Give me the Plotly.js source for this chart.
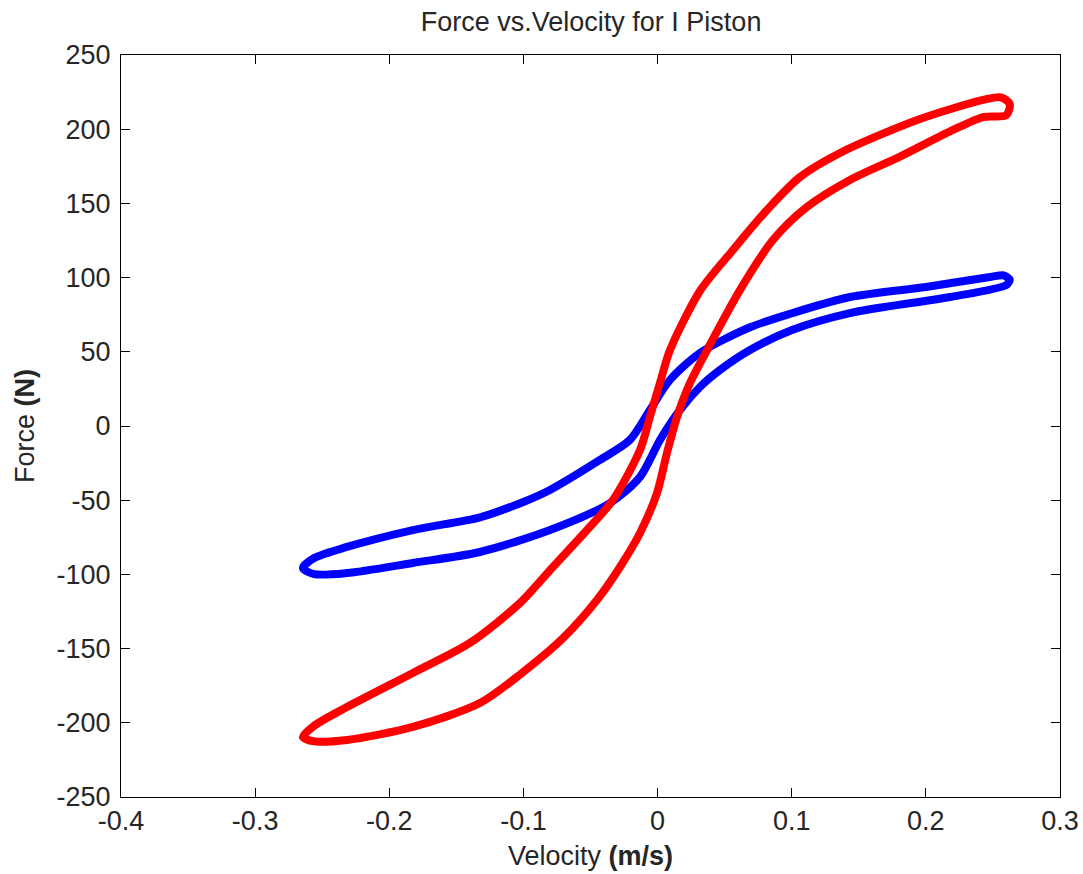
<!DOCTYPE html>
<html>
<head>
<meta charset="utf-8">
<script src="https://cdn.plot.ly/plotly-3.0.1.min.js"></script>
<style>html,body{margin:0;padding:0;background:#fff;}#plot{width:1083px;height:874px;}</style>
</head>
<body>
<div id="plot"></div>
<script>
// Blue loop: velocity (m/s) and force (N)
const blueVelocity = [-0.2644, -0.2560, -0.2316, -0.1824, -0.1324, -0.0996, -0.0802, -0.0430, -0.0206, -0.0057, 0.0092, 0.0316, 0.0689, 0.1002, 0.1435, 0.2001, 0.2479, 0.2580, 0.2625,
  0.2600, 0.2180, 0.1434, 0.1002, 0.0689, 0.0465, 0.0316, 0.0167, 0.0018, -0.0131, -0.0355, -0.0802, -0.1324, -0.1824, -0.2316, -0.2560, -0.2644];
const blueForce = [-95.7, -89.0, -81.5, -70.1, -61.5, -51.0, -43.1, -22.9, -9.4, 10.8, 31.0, 49.2, 66.5, 76.0, 86.9, 93.7, 100.4, 101.5, 98.5,
  95.0, 86.9, 76.1, 64.7, 51.2, 37.7, 26.3, 10.8, -9.4, -34.4, -51.9, -70.1, -84.9, -92.3, -99.1, -99.8, -95.7];

// Red loop
const redVelocity = [-0.2644, -0.2560, -0.2316, -0.1824, -0.1399, -0.1026, -0.0780, -0.0526, -0.0333, -0.0131, -0.0057, 0.0018, 0.0092, 0.0316, 0.0562, 0.0816, 0.1062, 0.1360, 0.1936, 0.2427, 0.2560, 0.2625,
  0.2600, 0.2427, 0.2180, 0.1807, 0.1434, 0.1114, 0.0860, 0.0614, 0.0369, 0.0242, 0.0145, 0.0070, -0.0004, -0.0131, -0.0280, -0.0452, -0.0705, -0.1026, -0.1324, -0.1824, -0.2316, -0.2560, -0.2644];
const redForce = [-209.6, -202.0, -189.4, -166.4, -146.2, -119.3, -95.0, -70.1, -49.9, -16.2, 6.1, 29.0, 51.0, 91.0, 118.6, 145.6, 167.8, 184.0, 206.2, 219.7, 221.5, 217.0,
  209.5, 208.2, 198.5, 181.5, 165.8, 147.6, 125.3, 91.6, 51.2, 29.0, 6.1, -18.2, -45.1, -72.1, -95.0, -117.3, -143.0, -167.5, -186.7, -202.8, -211.6, -212.5, -209.6];

const xTickVals = [-0.4, -0.3, -0.2, -0.1, 0, 0.1, 0.2, 0.3];
const xTickText = ['-0.4', '-0.3', '-0.2', '-0.1', '0', '0.1', '0.2', '0.3'];
const yTickVals = [-250, -200, -150, -100, -50, 0, 50, 100, 150, 200, 250];
const yTickText = ['-250', '-200', '-150', '-100', '-50', '0', '50', '100', '150', '200', '250'];

const chartTitle = 'Force vs.Velocity for I Piston';
const xTitle = 'Velocity <b>(m/s)</b>';
const yTitle = 'Force <b>(N)</b>';

const FONT = 'Liberation Sans, Arial, sans-serif';
const TXT = '#262626';
const FS = 27;

const traces = [
  {x: blueVelocity, y: blueForce, mode: 'lines', line: {color: '#0000ff', width: 8, shape: 'spline', smoothing: 0.8}, hoverinfo: 'skip'},
  {x: redVelocity, y: redForce, mode: 'lines', line: {color: '#ff0000', width: 8, shape: 'spline', smoothing: 0.8}, hoverinfo: 'skip'}
];

const axisCommon = {
  showgrid: false, zeroline: false, showline: true, linecolor: '#000', linewidth: 1,
  mirror: 'ticks', ticks: 'inside', ticklen: 9, tickcolor: '#000', tickwidth: 1,
  tickmode: 'array', tickfont: {family: FONT, size: FS, color: TXT}
};

const layout = {
  width: 1083, height: 874,
  margin: {l: 121, r: 23, t: 55, b: 77},
  paper_bgcolor: '#fff', plot_bgcolor: '#fff',
  showlegend: false,
  title: {text: chartTitle, font: {family: FONT, size: FS, color: TXT}, x: 0.5458, xanchor: 'center', y: 0.975, yanchor: 'middle'},
  xaxis: Object.assign({}, axisCommon, {
    range: [-0.4, 0.3], tickvals: xTickVals, ticktext: xTickText,
    title: {text: xTitle, font: {family: FONT, size: FS, color: TXT}, standoff: 10}
  }),
  yaxis: Object.assign({}, axisCommon, {
    range: [-250, 250], tickvals: yTickVals, ticktext: yTickText, ticklabelstandoff: 4,
    title: {text: yTitle, font: {family: FONT, size: FS, color: TXT}, standoff: 14}
  })
};

Plotly.newPlot('plot', traces, layout, {displayModeBar: false, staticPlot: true});
</script>
</body>
</html>
